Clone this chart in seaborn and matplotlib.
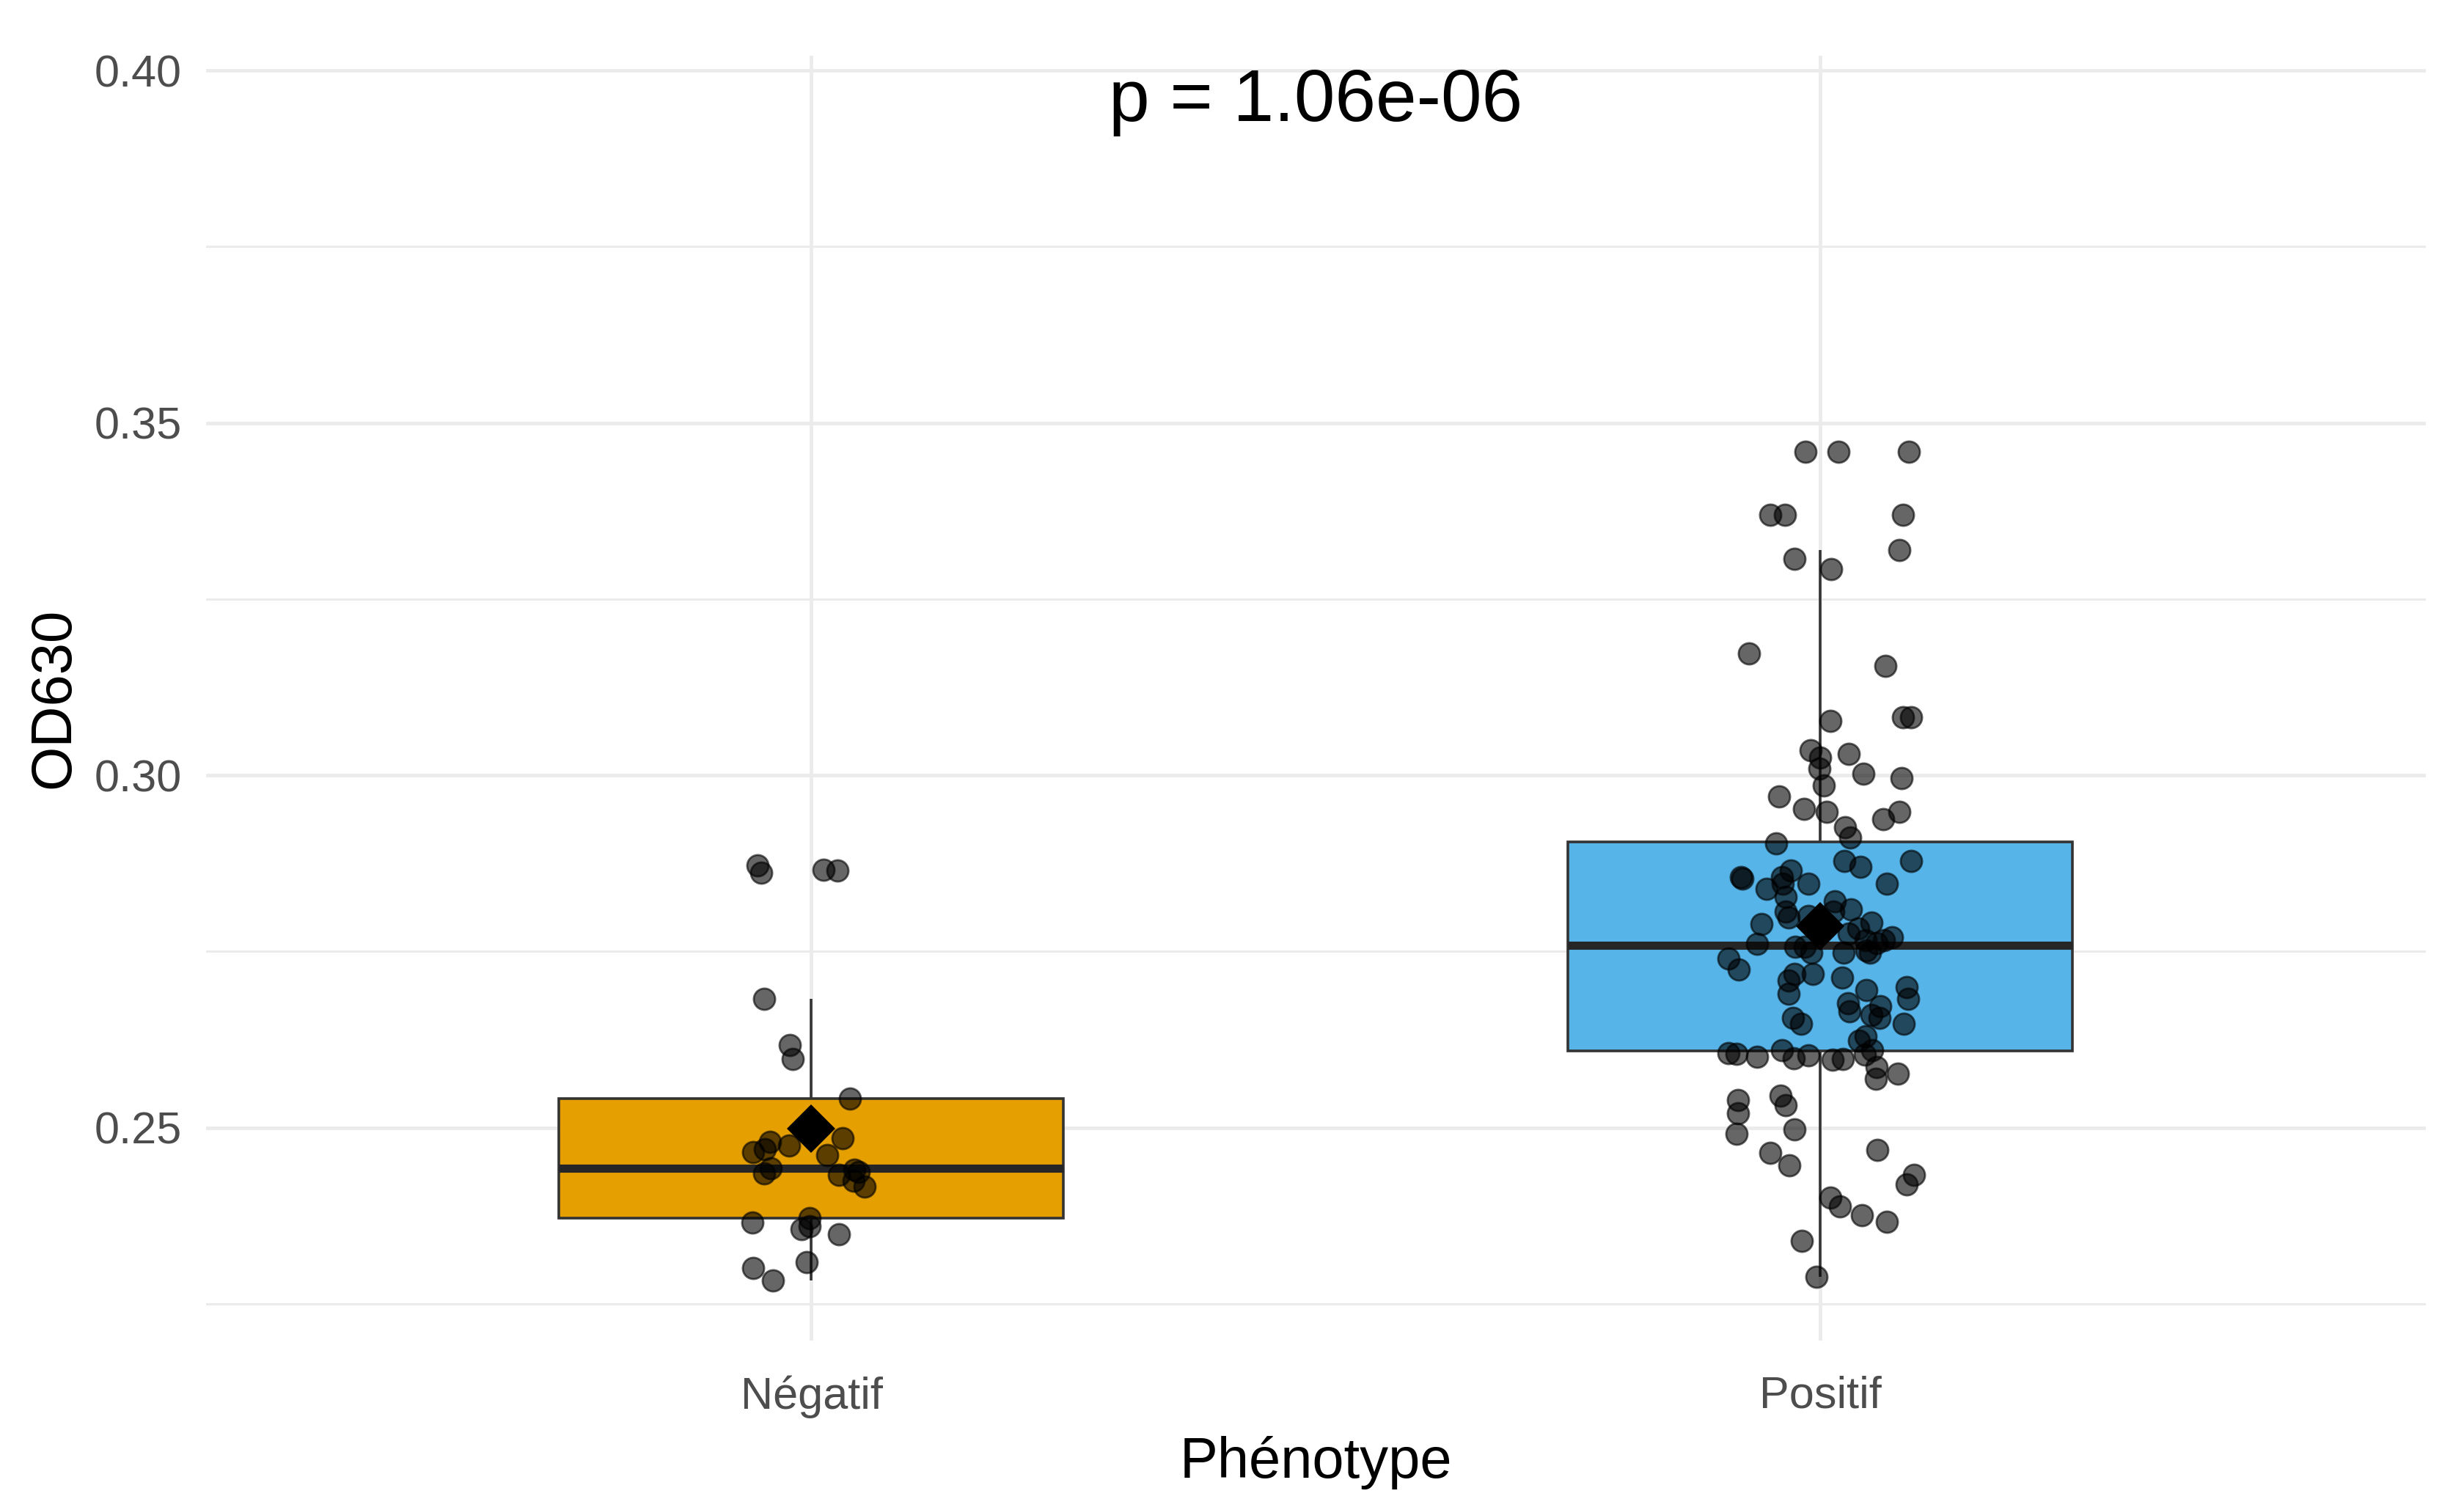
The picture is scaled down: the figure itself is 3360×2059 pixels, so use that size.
import numpy as np
import pandas as pd
import matplotlib.pyplot as plt
from matplotlib.ticker import FixedLocator, FormatStrFormatter
import seaborn as sns

# values
phenotypes = ["Négatif", "Positif"]

od_negatif = [
    0.2283, 0.2301, 0.2309, 0.2349, 0.2356, 0.2360, 0.2365, 0.2372,
    0.2417, 0.2425, 0.2433, 0.2435, 0.2437, 0.2440, 0.2442, 0.2461,
    0.2465, 0.2470, 0.2475, 0.2480, 0.2485, 0.2541, 0.2598, 0.2617,
    0.2683, 0.2862, 0.2865, 0.2866, 0.2872,
]

od_positif = [
    # below the box
    0.2289, 0.2339, 0.2367, 0.2376, 0.2388, 0.2401, 0.2420, 0.2433,
    0.2447, 0.2464, 0.2469, 0.2491, 0.2498, 0.2521, 0.2532, 0.2539,
    0.2546, 0.2569, 0.2577, 0.2586, 0.2596, 0.2598, 0.2599, 0.2601,
    0.2603, 0.2604, 0.2605, 0.2606,
    # lower half of the box
    0.2610, 0.2610, 0.2624, 0.2630, 0.2647, 0.2647, 0.2656, 0.2656,
    0.2660, 0.2665, 0.2672, 0.2677, 0.2683, 0.2690, 0.2695, 0.2700,
    0.2709, 0.2713, 0.2718, 0.2718, 0.2725, 0.2740, 0.2748, 0.2748,
    0.2748, 0.2752, 0.2757, 0.2757,
    # upper half of the box
    0.2761, 0.2762, 0.2766, 0.2766, 0.2770, 0.2775, 0.2783, 0.2789,
    0.2791, 0.2798, 0.2800, 0.2807, 0.2807, 0.2810, 0.2821, 0.2828,
    0.2839, 0.2846, 0.2846, 0.2846, 0.2853, 0.2856, 0.2856, 0.2865,
    0.2870, 0.2878, 0.2878, 0.2903,
    # above the box
    0.2912, 0.2926, 0.2938, 0.2948, 0.2948, 0.2952, 0.2970, 0.2986,
    0.2996, 0.3002, 0.3010, 0.3025, 0.3030, 0.3036, 0.3077, 0.3082,
    0.3082, 0.3155, 0.3173, 0.3293, 0.3307, 0.3320, 0.3370, 0.3370,
    0.3370, 0.3459, 0.3459, 0.3459,
]

p_label = "p = 1.06e-06"

df = pd.DataFrame({
    "Phénotype": ["Négatif"] * len(od_negatif) + ["Positif"] * len(od_positif),
    "OD630": od_negatif + od_positif,
})

sns.set_theme(style="whitegrid")
plt.rcParams["font.family"] = ["Liberation Sans", "DejaVu Sans"]

fig, ax = plt.subplots(figsize=(16.8, 10.295), dpi=200)
fig.subplots_adjust(left=0.0836, right=0.9845, bottom=0.1122, top=0.9631)

palette = {"Négatif": "#E69F00", "Positif": "#56B4E9"}
sns.boxplot(data=df, x="Phénotype", y="OD630", hue="Phénotype", order=phenotypes,
            palette=palette, saturation=1, width=0.5, linewidth=1.3,
            linecolor="#333333", showfliers=False, showcaps=False,
            medianprops={"linewidth": 4.0, "color": "#262626"},
            legend=False, ax=ax, zorder=2)

# jittered points, a bit narrower for the small group
np.random.seed(11)
for name, jit in zip(phenotypes, [0.06, 0.095]):
    sns.stripplot(data=df[df["Phénotype"] == name], x="Phénotype", y="OD630",
                  order=phenotypes, jitter=jit, color="black", alpha=0.6,
                  size=10.5, linewidth=1.0, edgecolor="black", ax=ax, zorder=3)

# group means
sns.pointplot(data=df, x="Phénotype", y="OD630", order=phenotypes,
              estimator="mean", errorbar=None, linestyle="none", marker="D",
              color="black", markersize=15, ax=ax, zorder=4)

ax.text(0.5, 0.3955, p_label, ha="center", va="center", fontsize=36, color="black")

ax.set_xlim(-0.6, 1.6)
ax.set_ylim(0.2198, 0.4021)
ax.yaxis.set_major_locator(FixedLocator([0.25, 0.30, 0.35, 0.40]))
ax.yaxis.set_minor_locator(FixedLocator([0.225, 0.275, 0.325, 0.375]))
ax.yaxis.set_major_formatter(FormatStrFormatter("%.2f"))

ax.set_axisbelow(True)
ax.grid(False)
ax.yaxis.grid(True, which="major", color="#EBEBEB", linewidth=1.7)
ax.yaxis.grid(True, which="minor", color="#EBEBEB", linewidth=1.1)
ax.xaxis.grid(True, which="major", color="#EBEBEB", linewidth=1.7)

ax.tick_params(which="both", length=0, labelsize=22, labelcolor="#4D4D4D")
ax.tick_params(axis="y", pad=12)
ax.tick_params(axis="x", pad=17)
sns.despine(ax=ax, left=True, bottom=True)

ax.set_xlabel("Phénotype", fontsize=28, color="black")
ax.set_ylabel("OD630", fontsize=28, color="black")
ax.xaxis.set_label_coords(0.5, -0.0742)
ax.yaxis.set_label_coords(-0.0562, 0.5)

fig.savefig("out.png", dpi=200)
plt.close(fig)
